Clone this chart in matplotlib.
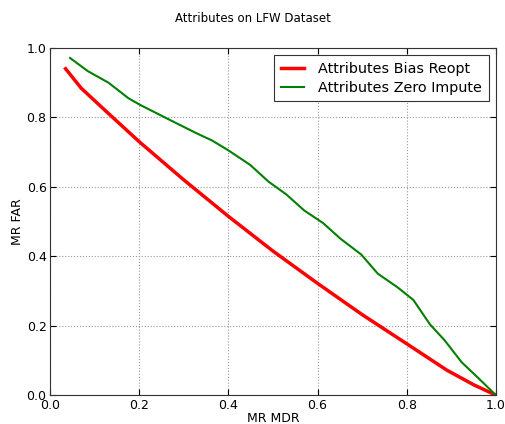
import matplotlib
matplotlib.use("Agg")
import matplotlib.pyplot as plt

bias_x = [0.035, 0.07, 0.127, 0.2, 0.3, 0.4, 0.5, 0.6, 0.7, 0.8, 0.89, 0.95, 1.0]
bias_y = [0.94, 0.884, 0.816, 0.73, 0.62, 0.515, 0.415, 0.322, 0.232, 0.148, 0.072, 0.03, 0.0]

zero_x = [0.045, 0.085, 0.131, 0.176, 0.202, 0.262, 0.329, 0.364, 0.40, 0.449, 0.49, 0.53,
          0.57, 0.612, 0.652, 0.698, 0.735, 0.78, 0.815, 0.852, 0.885, 0.923, 0.96, 1.0]
zero_y = [0.971, 0.933, 0.900, 0.855, 0.836, 0.797, 0.754, 0.733, 0.705, 0.663, 0.615, 0.578,
          0.532, 0.496, 0.45, 0.405, 0.35, 0.31, 0.274, 0.204, 0.158, 0.095, 0.05, 0.0]

plt.rcParams['font.family'] = ['DejaVu Sans']

fig = plt.figure(figsize=(5.05, 4.24), dpi=100)
ax = fig.add_axes([0.099, 0.068, 0.883, 0.819])

ax.plot(bias_x, bias_y, color='red', linewidth=2.5, label='Attributes Bias Reopt')
ax.plot(zero_x, zero_y, color='green', linewidth=1.5, label='Attributes Zero Impute')

ax.set_xlim(0, 1)
ax.set_ylim(0, 1)
ax.set_xticks([0, 0.2, 0.4, 0.6, 0.8, 1.0])
ax.set_yticks([0, 0.2, 0.4, 0.6, 0.8, 1.0])
ax.tick_params(labelsize=9, direction='in', length=4, top=True, right=True, pad=2.5)
ax.grid(True, color='#999999', linestyle=':', linewidth=0.8)
for s in ax.spines.values():
    s.set_color('#333333')

ax.set_xlabel('MR MDR', fontsize=9, labelpad=0)
ax.set_ylabel('MR FAR', fontsize=9, labelpad=2)
fig.text(0.5, 1 - 18 / 424, 'Attributes on LFW Dataset', ha='center', va='center', fontsize=8.5)

leg = ax.legend(loc='upper right', fontsize=10.4, fancybox=False, framealpha=1,
                edgecolor='#333333', handlelength=1.6, handletextpad=1.0,
                borderaxespad=0.5, borderpad=0.45, labelspacing=0.35)
leg.get_frame().set_linewidth(0.8)

fig.savefig('out.png', dpi=100)
